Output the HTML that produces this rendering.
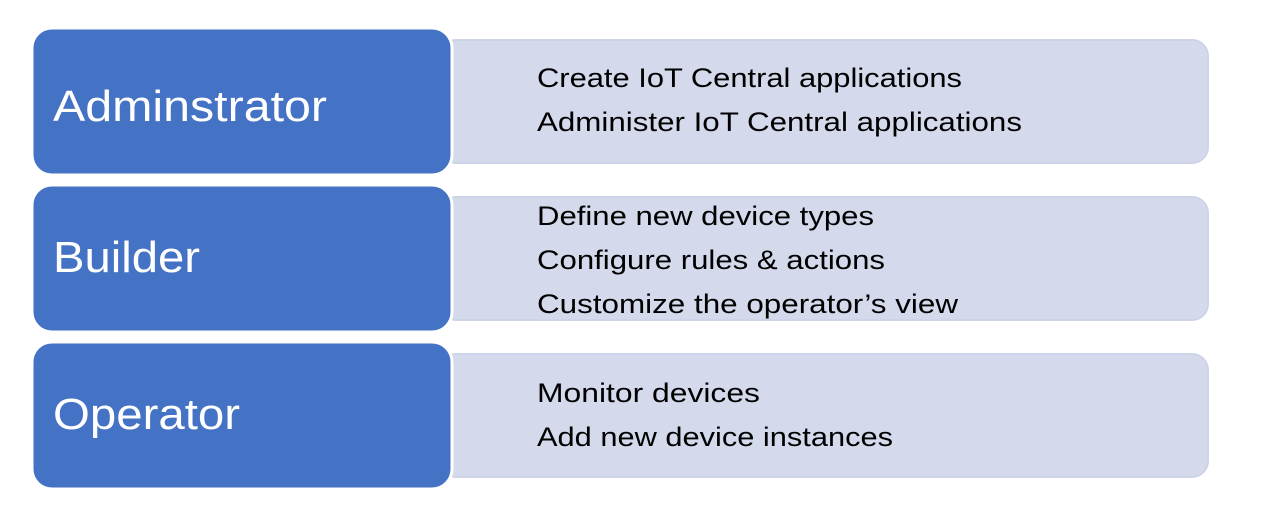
<!DOCTYPE html>
<html><head><meta charset="utf-8"><style>
html,body{margin:0;padding:0;background:#fff;width:1280px;height:514px;overflow:hidden}
svg{display:block}
text{font-family:"Liberation Sans",sans-serif}
.l{fill:#fff;font-size:44px}
.r{fill:#000;font-size:27px}
</style></head><body>
<svg width="1280" height="514" viewBox="0 0 1280 514">
<g fill="#D4D9EB" stroke="#CDD3E8" stroke-width="2">
<rect x="440" y="40" width="768" height="123" rx="16"/>
<rect x="440" y="197" width="768" height="123" rx="16"/>
<rect x="440" y="354" width="768" height="123" rx="16"/>
</g>
<g fill="#4472C4" stroke="#fff" stroke-width="3">
<rect x="32" y="28" width="420" height="147" rx="20"/>
<rect x="32" y="185" width="420" height="147" rx="20"/>
<rect x="32" y="342" width="420" height="147" rx="20"/>
</g>
<text class="l" x="53" y="121" textLength="274" lengthAdjust="spacingAndGlyphs">Adminstrator</text>
<text class="l" x="53" y="272" textLength="147" lengthAdjust="spacingAndGlyphs">Builder</text>
<text class="l" x="53" y="429" textLength="187" lengthAdjust="spacingAndGlyphs">Operator</text>
<text class="r" x="537" y="87" textLength="425" lengthAdjust="spacingAndGlyphs">Create IoT Central applications</text>
<text class="r" x="537" y="131" textLength="485" lengthAdjust="spacingAndGlyphs">Administer IoT Central applications</text>
<text class="r" x="537" y="225" textLength="337" lengthAdjust="spacingAndGlyphs">Define new device types</text>
<text class="r" x="537" y="269" textLength="348" lengthAdjust="spacingAndGlyphs">Configure rules &amp; actions</text>
<text class="r" x="537" y="313" textLength="421" lengthAdjust="spacingAndGlyphs">Customize the operator’s view</text>
<text class="r" x="537" y="402" textLength="223" lengthAdjust="spacingAndGlyphs">Monitor devices</text>
<text class="r" x="537" y="446" textLength="356" lengthAdjust="spacingAndGlyphs">Add new device instances</text>
</svg>
</body></html>
